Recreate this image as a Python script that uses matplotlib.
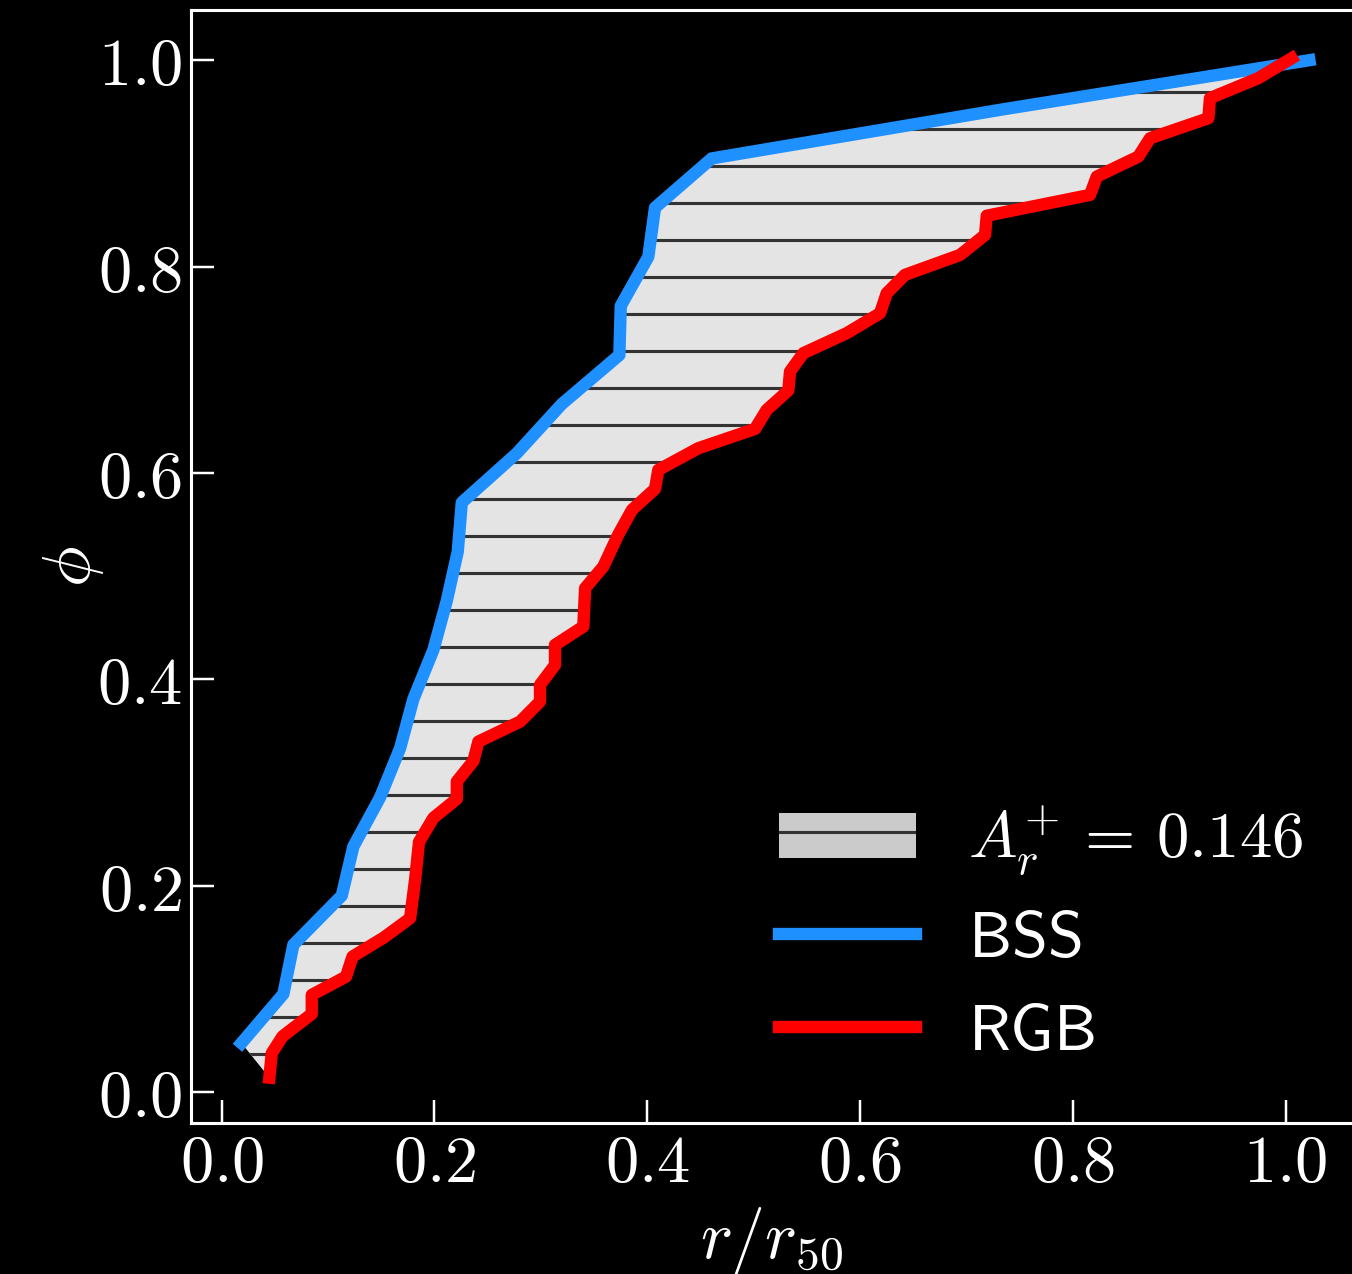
import numpy as np
import matplotlib
matplotlib.use("Agg")
import matplotlib.pyplot as plt
from matplotlib.patches import Patch

plt.rcParams['mathtext.fontset'] = 'cm'
plt.rcParams['hatch.linewidth'] = 1.0

# BSS cumulative radial distribution (r/r50, phi)
bss_r = [0.0186, 0.058, 0.0674, 0.1129, 0.1238, 0.1489, 0.1677, 0.1802, 0.199,
         0.2116, 0.2219, 0.2257, 0.2773, 0.3196, 0.3738, 0.3751, 0.401, 0.4073,
         0.4606, 0.7345, 1.0223]
bss_phi = [0.0476, 0.0952, 0.1429, 0.1905, 0.2381, 0.2857, 0.3333, 0.381, 0.4286,
           0.4762, 0.5238, 0.5714, 0.619, 0.6667, 0.7143, 0.7619, 0.8095, 0.8571,
           0.9048, 0.9524, 1.0]

# RGB cumulative radial distribution (r/r50, phi)
rgb_r = [0.0448, 0.0471, 0.0572, 0.0847, 0.0847, 0.1169, 0.1230, 0.1526, 0.1771,
         0.1818, 0.1855, 0.1990, 0.2210, 0.2210, 0.2366, 0.2413, 0.2805, 0.2992,
         0.2992, 0.3133, 0.3133, 0.3399, 0.3416, 0.3587, 0.3726, 0.3857, 0.4073,
         0.4104, 0.4480, 0.5013, 0.5123, 0.5326, 0.5342, 0.5467, 0.5875, 0.6188,
         0.6251, 0.6423, 0.6940, 0.7175, 0.7191, 0.8162, 0.8225, 0.8616, 0.8726,
         0.9274, 0.9289, 0.9743, 1.0057]
rgb_phi = [0.0141, 0.0378, 0.0541, 0.0759, 0.0943, 0.1120, 0.1314, 0.1500, 0.1686,
           0.2057, 0.2425, 0.2658, 0.2842, 0.3010, 0.3210, 0.3397, 0.3591, 0.3785,
           0.3947, 0.4140, 0.4334, 0.4512, 0.4884, 0.5093, 0.5400, 0.5643, 0.5846,
           0.6030, 0.6240, 0.6427, 0.6612, 0.6800, 0.6983, 0.7161, 0.7355, 0.7548,
           0.7742, 0.7920, 0.8113, 0.8307, 0.8493, 0.8695, 0.8872, 0.9066, 0.9244,
           0.9438, 0.9632, 0.9826, 1.0019]

area_label = r'$A_r^{+}\,=\,0.146$'
bss_label = r'$\mathsf{BSS}$'
rgb_label = r'$\mathsf{RGB}$'
ticks = [0.0, 0.2, 0.4, 0.6, 0.8, 1.0]
tick_labels = [r'$0.0$', r'$0.2$', r'$0.4$', r'$0.6$', r'$0.8$', r'$1.0$']

DPI = 222.6
fig = plt.figure(figsize=(1352 / DPI, 1274 / DPI), dpi=DPI, facecolor='black')
ax = fig.add_axes([0.1416, 0.1188, 0.8584, 0.8734], facecolor='black')

poly_x = np.concatenate([bss_r, rgb_r[::-1]])
poly_y = np.concatenate([bss_phi, rgb_phi[::-1]])
ax.fill(poly_x, poly_y, facecolor='#e4e4e4', edgecolor='#333333', hatch='-',
        linewidth=0, zorder=1)
l1, = ax.plot(bss_r, bss_phi, color='#1e90ff', lw=4, zorder=2)
l2, = ax.plot(rgb_r, rgb_phi, color='#ff0000', lw=4, zorder=3)

ax.set_xlim(-0.0284, 1.0624)
ax.set_ylim(-0.0295, 1.0487)
ax.set_xticks(ticks)
ax.set_xticklabels(tick_labels)
ax.set_yticks(ticks)
ax.set_yticklabels(tick_labels)

for s in ['left', 'bottom', 'top']:
    ax.spines[s].set_color('white')
    ax.spines[s].set_linewidth(1.0)
ax.spines['right'].set_visible(False)
ax.tick_params(direction='in', length=7.5, width=0.8, colors='white',
               labelsize=21.5, pad=3, top=False, right=False)

ax.set_xlabel(r'$r/r_{50}$', color='white', fontsize=22, labelpad=3)
ax.set_ylabel(r'$\phi$', color='white', fontsize=22)
ax.yaxis.set_label_coords(-0.074, 0.5)

proxy = Patch(facecolor='#cbcbcb', edgecolor='#333333', hatch='-', linewidth=0)
leg = ax.legend([proxy, l1, l2], [area_label, bss_label, rgb_label],
                loc='lower right', bbox_to_anchor=(1.008, 0.0),
                frameon=False, fontsize=21, labelcolor='white',
                labelspacing=0.45, handlelength=2.1)

fig.savefig('out.png', dpi=DPI, facecolor='black')
